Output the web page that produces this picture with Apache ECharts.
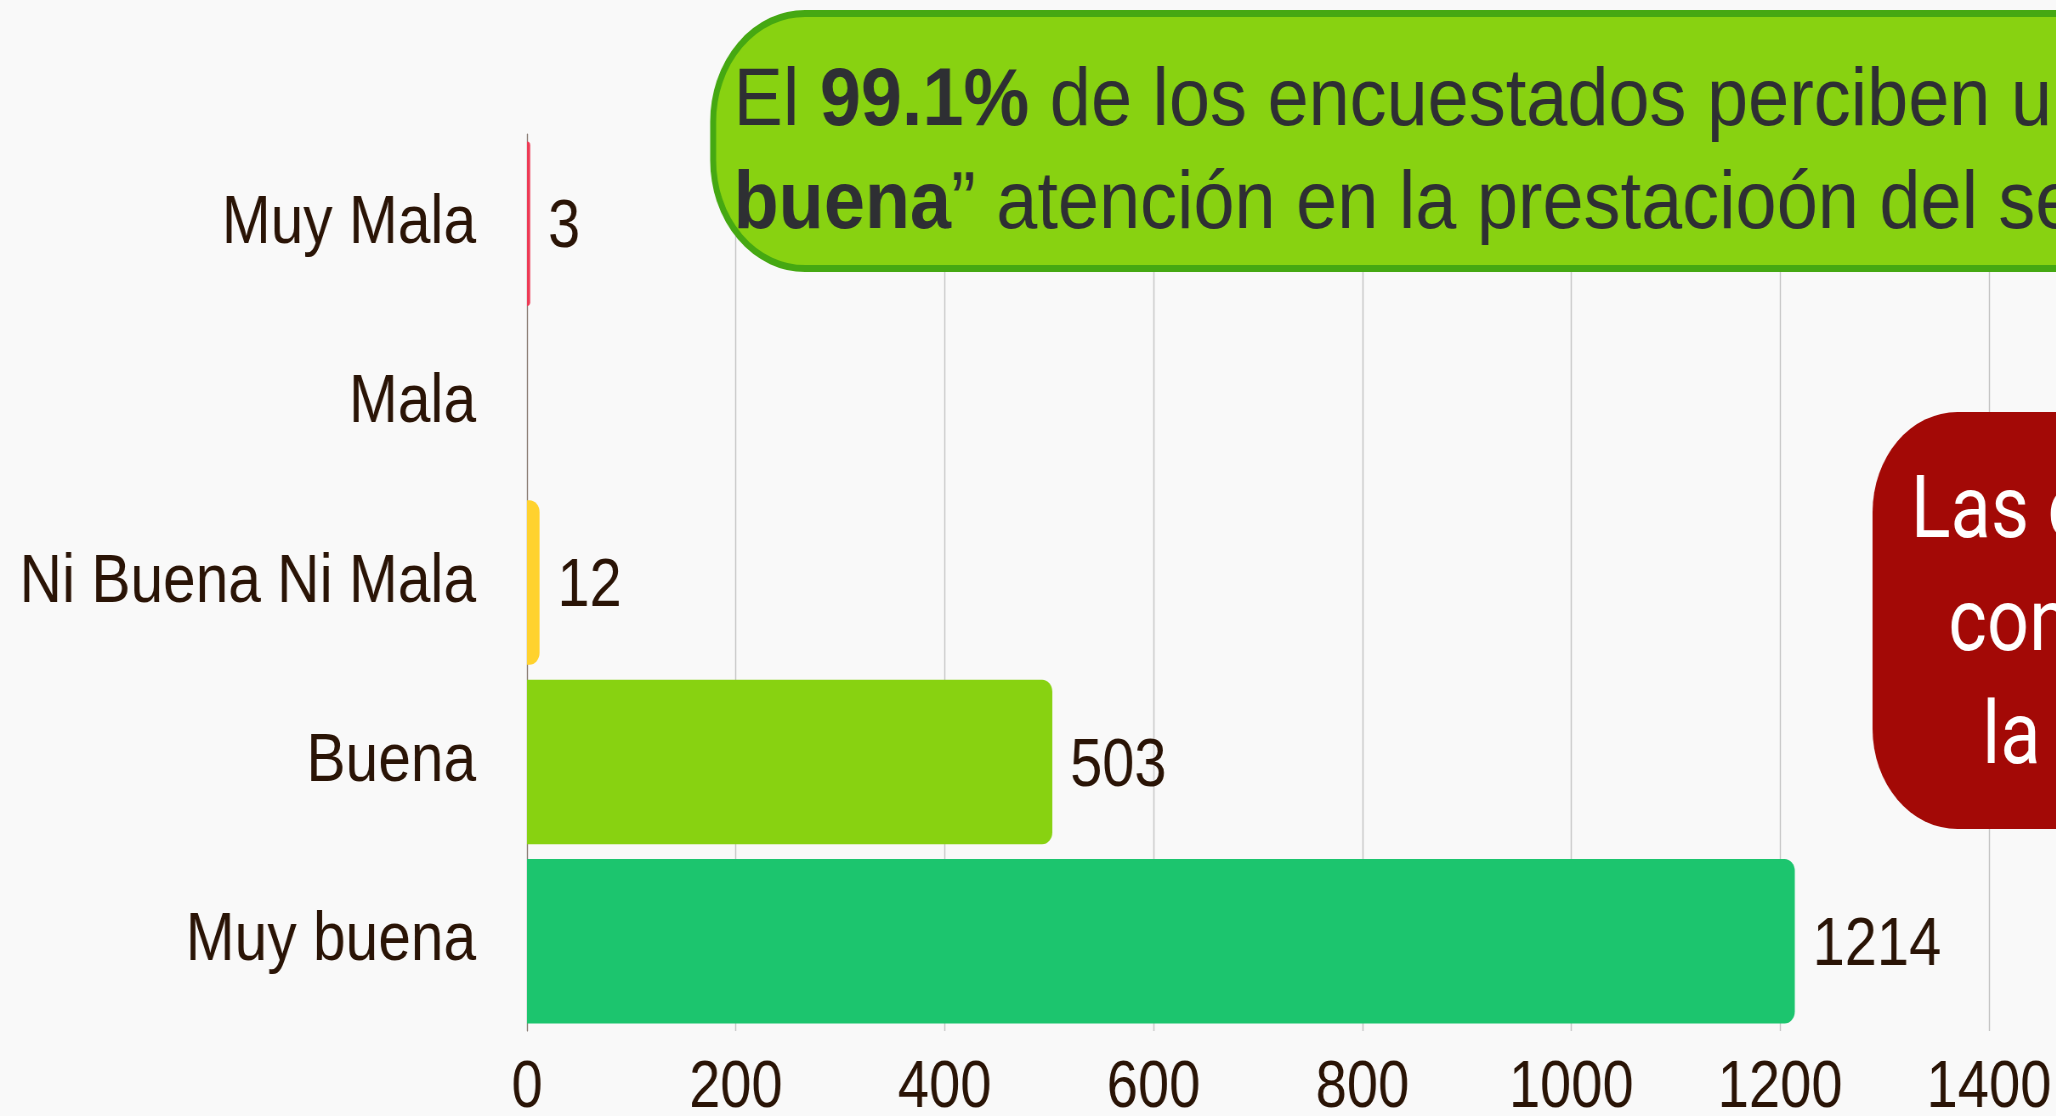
<!DOCTYPE html>
<html>
<head>
<meta charset="utf-8">
<script src="https://cdn.jsdelivr.net/npm/echarts@6/dist/echarts.min.js"></script>
<style>
html,body{margin:0;padding:0;background:#f9f9f9;overflow:hidden;width:2056px;height:1116px;}
#chart{width:2419px;height:1116px;transform:scaleX(0.85);transform-origin:0 0;}
</style>
</head>
<body>
<div id="chart"></div>
<script>
const categories = ['Muy Mala', 'Mala', 'Ni Buena Ni Mala', 'Buena', 'Muy buena'];
const values = [3, 0, 12, 503, 1214];
const barColors = ['#ee3a55', '#9a8a80', '#ffd22e', '#88d211', '#1cc56e'];
const xTicks = {min: 0, max: 1400, interval: 200};
const greenLine1 = 'El {b|99.1%} de los encuestados perciben una “{b|Buena}” y “{b|Muy}';
const greenLine2 = '{b|buena}” atención en la prestacioón del servicio';
const redLines = ['Las calificaciones negativas', 'constituyen menos del 1% de', 'la muestra encuestada'];

const FONT = "'Liberation Sans', Arial, sans-serif";
const FONT_R = "Roboto, 'Liberation Sans', sans-serif";
const TXT = '#2a1406';

const chart = echarts.init(document.getElementById('chart'), null, {renderer: 'canvas'});
const option = {
  backgroundColor: '#f9f9f9',
  animation: false,
  grid: {left: 620, right: 79, top: 134, bottom: 85, containLabel: false, outerBoundsMode: 'none'},
  xAxis: {
    type: 'value',
    min: xTicks.min, max: xTicks.max, interval: xTicks.interval,
    axisLine: {show: false},
    axisTick: {show: false},
    splitLine: {show: true, lineStyle: {color: '#c4c4c4', width: 1.4}},
    axisLabel: {fontFamily: FONT, fontSize: 66, color: TXT, margin: 25, formatter: v => String(v)}
  },
  yAxis: {
    type: 'category',
    data: categories,
    inverse: true,
    axisLine: {show: true, lineStyle: {color: '#8a7b72', width: 1.2}},
    axisTick: {show: false},
    splitLine: {show: false},
    axisLabel: {fontFamily: FONT, fontSize: 69, color: TXT, margin: 60, padding: [16, 0, 0, 0]}
  },
  series: [{
    type: 'bar',
    data: values.map((v, i) => ({value: v, itemStyle: {color: barColors[i]}})),
    barCategoryGap: '8.3%',
    itemStyle: {borderRadius: [0, 12, 12, 0]},
    label: {
      show: true, position: 'right', distance: 21, offset: [0, 5],
      fontFamily: FONT, fontSize: 68, color: TXT,
      formatter: p => (p.value === 0 ? '' : String(p.value))
    },
    z: 2
  }],
  graphic: [
    {
      type: 'rect', z: 100,
      shape: {x: 839, y: 13.5, width: 2400, height: 255, r: 108},
      style: {fill: '#88d211', stroke: '#45a812', lineWidth: 7}
    },
    {
      type: 'text', z: 101, x: 863, y: 102.5, scaleX: 1.06,
      style: {
        text: greenLine1, fill: '#2e2f33',
        font: "82px " + FONT, textVerticalAlign: 'middle', textAlign: 'left',
        rich: {b: {fontWeight: 'bold', fontSize: 82, fontFamily: FONT, fill: '#2e2f33'}}
      }
    },
    {
      type: 'text', z: 101, x: 863, y: 205, scaleX: 1.06,
      style: {
        text: greenLine2, fill: '#2e2f33',
        font: "82px " + FONT, textVerticalAlign: 'middle', textAlign: 'left',
        rich: {b: {fontWeight: 'bold', fontSize: 82, fontFamily: FONT, fill: '#2e2f33'}}
      }
    },
    {
      type: 'rect', z: 100,
      shape: {x: 2203, y: 412, width: 900, height: 417, r: 100},
      style: {fill: '#a30906'}
    },
    {type: 'text', z: 101, x: 2248, y: 515, style: {text: redLines[0], fill: '#ffffff', font: "87px " + FONT_R, textVerticalAlign: 'middle'}},
    {type: 'text', z: 101, x: 2292, y: 628, style: {text: redLines[1], fill: '#ffffff', font: "87px " + FONT_R, textVerticalAlign: 'middle'}},
    {type: 'text', z: 101, x: 2332, y: 741, style: {text: redLines[2], fill: '#ffffff', font: "87px " + FONT_R, textVerticalAlign: 'middle'}}
  ]
};
chart.setOption(option);
</script>
</body>
</html>
